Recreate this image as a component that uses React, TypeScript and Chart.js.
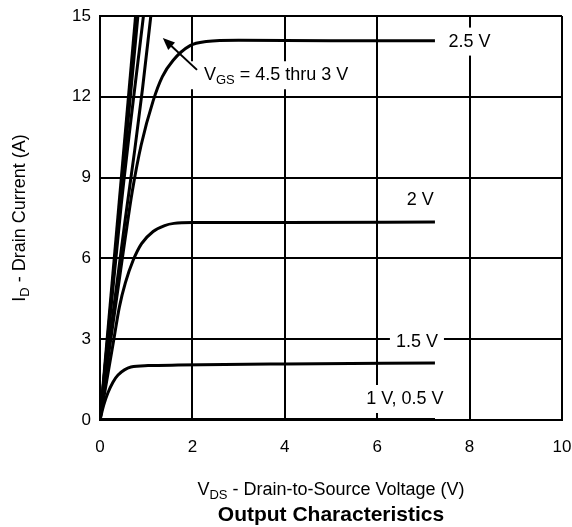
import React, { useEffect, useRef } from "react";
import { Chart, registerables } from "chart.js";

Chart.register(...registerables);

// ---- Data ----
const xTickValues = [0, 2, 4, 6, 8, 10];
const yTickValues = [0, 3, 6, 9, 12, 15];

const seriesNames = ["4.5 V", "4 V", "3.5 V", "3 V", "2.5 V", "2 V", "1.5 V", "1 V", "0.5 V"];

const vgs45X = [0, 0.77];
const vgs45Y = [0, 15];
const vgs4X = [0, 0.82];
const vgs4Y = [0, 15];
const vgs35X = [0, 0.46, 0.94];
const vgs35Y = [0, 8, 15];
const vgs3X = [0, 0.3, 0.55, 0.75, 0.92, 1.1];
const vgs3Y = [0, 4.2, 7.5, 10, 12.3, 15];
const vgs25X = [0, 0.2, 0.4, 0.55, 0.7, 0.89, 1.15, 1.35, 1.58, 1.95, 2.3, 3, 5, 7.25];
const vgs25Y = [0, 2.6, 5, 6.8, 8.5, 10.2, 11.85, 12.75, 13.35, 13.9, 14.05, 14.1, 14.08, 14.08];
const vgs2X = [0, 0.15, 0.3, 0.42, 0.55, 0.72, 0.9, 1.15, 1.4, 1.6, 2, 4, 7.25];
const vgs2Y = [0, 1.5, 3.0, 4.2, 5.1, 5.94, 6.55, 7.0, 7.22, 7.3, 7.33, 7.33, 7.35];
const vgs15X = [0, 0.08, 0.17, 0.28, 0.39, 0.67, 1.04, 1.69, 4, 7.25];
const vgs15Y = [0, 0.55, 1.0, 1.4, 1.67, 1.97, 2.02, 2.04, 2.08, 2.12];
const vgs1X = [0, 7.25];
const vgs1Y = [0, 0];
const vgs05X = [0, 7.25];
const vgs05Y = [0, 0];

const seriesX = [vgs45X, vgs4X, vgs35X, vgs3X, vgs25X, vgs2X, vgs15X, vgs1X, vgs05X];
const seriesY = [vgs45Y, vgs4Y, vgs35Y, vgs3Y, vgs25Y, vgs2Y, vgs15Y, vgs1Y, vgs05Y];

// ---- Texts ----
const FONT = '"Liberation Sans", Arial, Helvetica, sans-serif';
const TEXT_SIZE = 18;

type Part = { t: string; sub?: boolean };

function subSize(size: number) {
  return Math.round(size * 0.74);
}

function richWidth(ctx: CanvasRenderingContext2D, parts: Part[], size: number, weight = "normal") {
  let w = 0;
  for (const p of parts) {
    ctx.font = `${weight} ${p.sub ? subSize(size) : size}px ${FONT}`;
    w += ctx.measureText(p.t).width;
  }
  return w;
}

function drawRich(
  ctx: CanvasRenderingContext2D,
  parts: Part[],
  x: number,
  y: number,
  size: number,
  align: "left" | "center",
  weight = "normal"
) {
  const w = richWidth(ctx, parts, size, weight);
  let cx = align === "center" ? x - w / 2 : x;
  ctx.textBaseline = "middle";
  ctx.textAlign = "left";
  ctx.fillStyle = "#000";
  for (const p of parts) {
    const s = p.sub ? subSize(size) : size;
    ctx.font = `${weight} ${s}px ${FONT}`;
    ctx.fillText(p.t, cx, p.sub ? y + size * 0.28 : y);
    cx += ctx.measureText(p.t).width;
  }
  return w;
}

const annotationPlugin = {
  id: "annotations",
  afterDraw(chart: any) {
    const ctx: CanvasRenderingContext2D = chart.ctx;
    const xs = chart.scales.x;
    const ys = chart.scales.y;
    const ca = chart.chartArea;
    const px = (v: number) => xs.getPixelForValue(v);
    const py = (v: number) => ys.getPixelForValue(v);
    ctx.save();

    const labels: {
      parts: Part[];
      x: number;
      y: number;
      align: "left" | "center";
      box: boolean;
      padL: number;
    }[] = [
      { parts: [{ t: seriesNames[4] }], x: 8.0, y: 14.05, align: "center", box: true, padL: 6 },
      { parts: [{ t: seriesNames[5] }], x: 6.93, y: 8.15, align: "center", box: false, padL: 6 },
      { parts: [{ t: seriesNames[6] }], x: 6.86, y: 2.9, align: "center", box: true, padL: 6 },
      {
        parts: [{ t: seriesNames[7] + ", " + seriesNames[8] }],
        x: 6.6,
        y: 0.78,
        align: "center",
        box: true,
        padL: 6,
      },
      {
        parts: [
          { t: "V" },
          { t: "GS", sub: true },
          { t: " = " + seriesNames[0].replace(" V", "") + " thru " + seriesNames[3] },
        ],
        x: 2.25,
        y: 12.8,
        align: "left",
        box: true,
        padL: 15,
      },
    ];

    for (const l of labels) {
      const w = richWidth(ctx, l.parts, TEXT_SIZE);
      const x = px(l.x);
      const y = py(l.y);
      const left = l.align === "center" ? x - w / 2 : x;
      if (l.box) {
        ctx.fillStyle = "#fff";
        ctx.fillRect(left - l.padL, y - 14, w + l.padL + 6, 28);
      }
      drawRich(ctx, l.parts, x, y, TEXT_SIZE, l.align);
    }

    // arrow
    const tx = px(2.1),
      ty = py(13.0);
    const hx = px(1.36),
      hy = py(14.18);
    const ang = Math.atan2(hy - ty, hx - tx);
    ctx.strokeStyle = "#000";
    ctx.lineWidth = 2;
    ctx.beginPath();
    ctx.moveTo(tx, ty);
    ctx.lineTo(hx - Math.cos(ang) * 8, hy - Math.sin(ang) * 8);
    ctx.stroke();
    ctx.fillStyle = "#000";
    ctx.beginPath();
    ctx.moveTo(hx, hy);
    ctx.lineTo(hx - Math.cos(ang) * 12 + Math.sin(ang) * 5, hy - Math.sin(ang) * 12 - Math.cos(ang) * 5);
    ctx.lineTo(hx - Math.cos(ang) * 12 - Math.sin(ang) * 5, hy - Math.sin(ang) * 12 + Math.cos(ang) * 5);
    ctx.closePath();
    ctx.fill();

    // axis titles
    const midX = (ca.left + ca.right) / 2;
    const midY = (ca.top + ca.bottom) / 2;
    drawRich(
      ctx,
      [{ t: "V" }, { t: "DS", sub: true }, { t: " - Drain-to-Source Voltage (V)" }],
      midX,
      ca.bottom + 70,
      TEXT_SIZE,
      "center"
    );
    drawRich(ctx, [{ t: "Output Characteristics" }], midX, ca.bottom + 95, 21, "center", "bold");

    ctx.translate(20, midY);
    ctx.rotate(-Math.PI / 2);
    drawRich(ctx, [{ t: "I" }, { t: "D", sub: true }, { t: " - Drain Current (A)" }], 0, 0, TEXT_SIZE, "center");
    ctx.restore();
  },
};

export default function App() {
  const ref = useRef<HTMLCanvasElement | null>(null);

  useEffect(() => {
    if (!ref.current) return;
    const datasets = seriesNames.map((name, i) => ({
      label: name,
      data: seriesX[i].map((x, j) => ({ x, y: seriesY[i][j] })),
      showLine: true,
      borderColor: "#000",
      backgroundColor: "#000",
      borderWidth: i >= 7 ? 4 : 3,
      pointRadius: 0,
      cubicInterpolationMode: "monotone" as const,
      fill: false,
    }));

    const chart = new Chart(ref.current, {
      type: "scatter",
      data: { datasets },
      options: {
        animation: false,
        responsive: false,
        layout: { padding: { top: 16, right: 10, left: 0, bottom: 0 } },
        plugins: { legend: { display: false }, tooltip: { enabled: false } },
        scales: {
          x: {
            type: "linear",
            min: 0,
            max: 10,
            afterBuildTicks: (s: any) => {
              s.ticks = xTickValues.map((v) => ({ value: v }));
            },
            afterFit: (s: any) => {
              s.height = 107;
              s.paddingLeft = 0;
              s.paddingRight = 0;
            },
            ticks: {
              color: "#000",
              font: { family: FONT, size: 17 },
              padding: 17,
              maxRotation: 0,
            },
            grid: { color: "#000", lineWidth: 2, drawTicks: false },
            border: { display: true, color: "#000", width: 2 },
          },
          y: {
            type: "linear",
            min: 0,
            max: 15,
            afterBuildTicks: (s: any) => {
              s.ticks = yTickValues.map((v) => ({ value: v }));
            },
            afterFit: (s: any) => {
              s.width = 100;
              s.paddingTop = 0;
              s.paddingBottom = 0;
            },
            ticks: {
              color: "#000",
              font: { family: FONT, size: 17 },
              padding: 9,
            },
            grid: { color: "#000", lineWidth: 2, drawTicks: false },
            border: { display: true, color: "#000", width: 2 },
          },
        },
      },
      plugins: [annotationPlugin],
    });
    return () => chart.destroy();
  }, []);

  return (
    <div style={{ position: "absolute", left: 0, top: 0, width: 572, height: 527, background: "#fff" }}>
      <canvas ref={ref} width={572} height={527} />
    </div>
  );
}
